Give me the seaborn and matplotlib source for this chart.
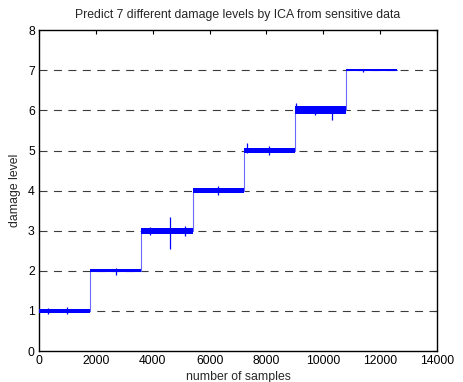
import pandas as pd
import matplotlib
matplotlib.use('Agg')
import matplotlib.pyplot as plt
import seaborn as sns

# damage level of each block of samples
seg_start = [0, 1800, 3600, 5400, 7200, 9000, 10800]
seg_end = 12600
levels = [1, 2, 3, 4, 5, 6, 7]
# spread of the noisy band above / below each level
band_up = [0.05, 0.05, 0.07, 0.07, 0.07, 0.10, 0.02]
band_down = [0.05, 0.04, 0.07, 0.06, 0.07, 0.10, 0.02]
# isolated spikes: sample, low, high
spike_x = [300, 1000, 2700, 3900, 4600, 5150, 6300, 7300, 8100, 9050, 9700, 10300, 11400]
spike_lo = [0.92, 0.93, 1.90, 2.90, 2.55, 2.88, 3.90, 4.95, 4.90, 5.95, 5.88, 5.75, 6.96]
spike_hi = [1.08, 1.09, 2.06, 3.10, 3.35, 3.12, 4.12, 5.18, 5.12, 6.19, 6.12, 6.05, 7.03]

sns.set_style('white')
plt.rcParams['font.family'] = ['Liberation Sans', 'DejaVu Sans']

xs = seg_start + [seg_end]
df = pd.DataFrame({'samples': xs, 'level': levels + [levels[-1]]})

fig = plt.figure(figsize=(4.64, 3.82), dpi=100)
ax = fig.add_axes([0.084, 0.081, 0.858, 0.840])

# dashed reference lines
for lv in levels:
    ax.axhline(lv, color='#3c3c3c', linestyle=(0, (7.2, 5.8)), linewidth=0.8, zorder=1)

# transitions + centre line
sns.lineplot(data=df, x='samples', y='level', drawstyle='steps-post', estimator=None,
             color='#6a6aff', linewidth=0.8, ax=ax, zorder=2)

# noisy band of each block
for i in range(len(levels)):
    x0 = seg_start[i]
    x1 = seg_start[i + 1] if i + 1 < len(seg_start) else seg_end
    ax.fill_between([x0, x1], levels[i] - band_down[i], levels[i] + band_up[i],
                    color='blue', linewidth=0, zorder=3)
ax.vlines(spike_x, spike_lo, spike_hi, color='blue', linewidth=0.9, zorder=3)

ax.set_xlim(0, 14000)
ax.set_ylim(0, 8)
ax.set_xticks(range(0, 14001, 2000))
ax.set_yticks(range(0, 9))
ax.tick_params(direction='in', length=3, width=0.8, labelsize=8.8, colors='black',
               top=True, right=True, pad=3)
for s in ax.spines.values():
    s.set_color('black')
    s.set_linewidth(1.0)

ax.set_title('Predict 7 different damage levels by ICA from sensitive data', fontsize=8.8, pad=9)
ax.set_xlabel('number of samples', fontsize=8.8, labelpad=3)
ax.set_ylabel('damage level', fontsize=8.8, labelpad=5)

fig.savefig('out.png', dpi=100)
